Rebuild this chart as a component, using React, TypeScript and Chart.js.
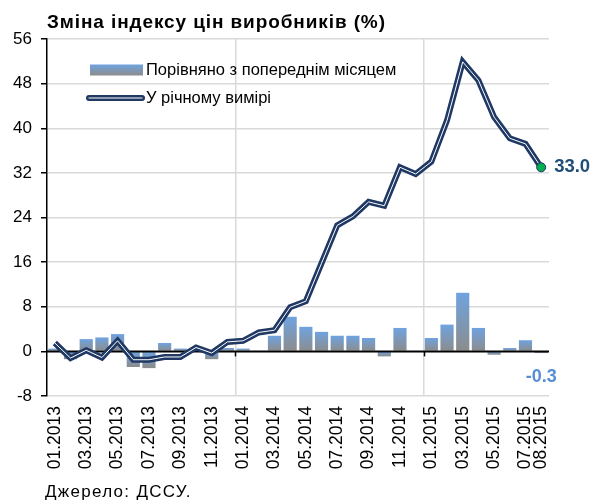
import React, { useEffect, useRef } from 'react';
import { Chart, registerables } from 'chart.js';

Chart.register(...registerables);

const months = [
  '01.2013', '02.2013', '03.2013', '04.2013', '05.2013', '06.2013', '07.2013', '08.2013',
  '09.2013', '10.2013', '11.2013', '12.2013', '01.2014', '02.2014', '03.2014', '04.2014',
  '05.2014', '06.2014', '07.2014', '08.2014', '09.2014', '10.2014', '11.2014', '12.2014',
  '01.2015', '02.2015', '03.2015', '04.2015', '05.2015', '06.2015', '07.2015', '08.2015',
];

// Порівняно з попереднім місяцем (%)
const monthlyChange = [
  0.5, -1.4, 2.2, 2.5, 3.1, -2.8, -3.0, 1.5, 0.5, 0.2, -1.4, 0.6,
  0.5, 0.0, 2.8, 6.2, 4.4, 3.5, 2.8, 2.8, 2.4, -0.9, 4.2, 0.0,
  2.4, 4.8, 10.5, 4.2, -0.6, 0.6, 2.0, -0.3,
];

// У річному вимірі (%)
const annualChange = [
  1.5, -1.2, 0.2, -1.1, 1.9, -1.5, -1.5, -1.0, -1.0, 0.7, -0.3, 1.7,
  1.9, 3.4, 3.8, 7.9, 9.0, 15.8, 22.6, 24.2, 26.8, 26.1, 33.0, 31.8,
  34.0, 41.4, 51.9, 48.6, 42.0, 38.2, 37.2, 33.0,
];

const yMin = -8;
const yMax = 56;
const yStep = 8;

const titleText = 'Зміна індексу цін виробників (%)';
const legendBarLabel = 'Порівняно з попереднім місяцем';
const legendLineLabel = 'У річному вимірі';
const sourceText = 'Джерело: ДССУ.';

const FONT = '"Liberation Sans", Arial, sans-serif';
const NAVY = '#1F3864';
const BAR_TOP = '#6FA3E0';
const BAR_BOTTOM = '#8C8C8C';
const GRID = '#D9D9D9';

const lastIdx = months.length - 1;
const dotData = annualChange.map((v, i) => (i === lastIdx ? v : null));

export default function App() {
  const canvasRef = useRef<HTMLCanvasElement | null>(null);

  useEffect(() => {
    const canvas = canvasRef.current;
    if (!canvas) return;

    const overlay = {
      id: 'overlay',
      afterDatasetDraw(chart: any, args: any) {
        if (args.index !== 0) return;
        const { ctx, chartArea, scales } = chart;
        const y0 = scales.y.getPixelForValue(0);
        ctx.save();
        ctx.strokeStyle = '#000';
        ctx.lineWidth = 2;
        ctx.beginPath();
        ctx.moveTo(chartArea.left, y0);
        ctx.lineTo(chartArea.right, y0);
        ctx.stroke();
        ctx.lineWidth = 1.5;
        const step = (chartArea.right - chartArea.left) / months.length;
        for (let i = 12; i < months.length; i += 12) {
          const x = Math.round(chartArea.left + i * step) + 0.5;
          ctx.beginPath();
          ctx.moveTo(x, y0);
          ctx.lineTo(x, y0 + 5);
          ctx.stroke();
        }
        ctx.restore();
      },
      afterDraw(chart: any) {
        const { ctx, chartArea } = chart;
        ctx.save();
        const lx = chartArea.left + 43;
        const g = ctx.createLinearGradient(0, 64.5, 0, 75.5);
        g.addColorStop(0, BAR_TOP);
        g.addColorStop(1, BAR_BOTTOM);
        ctx.fillStyle = g;
        ctx.fillRect(lx, 64.5, 53, 11);
        ctx.font = `16.5px ${FONT}`;
        ctx.fillStyle = '#000';
        ctx.textBaseline = 'middle';
        ctx.textAlign = 'left';
        ctx.fillText(legendBarLabel, lx + 56, 70);
        ctx.lineCap = 'round';
        ctx.strokeStyle = NAVY;
        ctx.lineWidth = 6;
        ctx.beginPath();
        ctx.moveTo(lx - 1, 98);
        ctx.lineTo(lx + 52, 98);
        ctx.stroke();
        ctx.strokeStyle = '#fff';
        ctx.lineWidth = 1;
        ctx.stroke();
        ctx.fillStyle = '#000';
        ctx.fillText(legendLineLabel, lx + 56, 98);

        const lineMeta = chart.getDatasetMeta(1);
        const pt = lineMeta.data[lastIdx];
        ctx.font = `bold 18.5px ${FONT}`;
        ctx.fillStyle = '#1F4E79';
        ctx.textAlign = 'left';
        ctx.fillText(annualChange[lastIdx].toFixed(1), pt.x + 13, pt.y);

        const barMeta = chart.getDatasetMeta(0);
        const bar = barMeta.data[lastIdx];
        const y0 = chart.scales.y.getPixelForValue(0);
        ctx.font = `bold 18px ${FONT}`;
        ctx.fillStyle = '#558ED5';
        ctx.textAlign = 'center';
        ctx.fillText(monthlyChange[lastIdx].toFixed(1), bar.x, y0 + 26);
        ctx.restore();
      },
    };

    const chart = new Chart(canvas, {
      type: 'bar',
      data: {
        labels: months,
        datasets: [
          {
            type: 'bar',
            label: legendBarLabel,
            data: monthlyChange,
            order: 4,
            barPercentage: 0.84,
            categoryPercentage: 1,
            backgroundColor: (ctx: any) => {
              const chart = ctx.chart;
              if (!chart.chartArea || ctx.type !== 'data') return BAR_TOP;
              const ys = chart.scales.y;
              const p0 = ys.getPixelForValue(0);
              const p1 = ys.getPixelForValue(ctx.raw as number);
              const top = Math.min(p0, p1);
              const bot = Math.max(p0, p1);
              if (bot - top < 0.5) return BAR_BOTTOM;
              const g = chart.ctx.createLinearGradient(0, top, 0, bot);
              g.addColorStop(0, BAR_TOP);
              g.addColorStop(1, BAR_BOTTOM);
              return g;
            },
            borderWidth: 0,
          },
          {
            type: 'line',
            label: legendLineLabel,
            data: annualChange,
            order: 3,
            borderColor: NAVY,
            borderWidth: 6,
            pointRadius: 0,
            tension: 0,
            borderJoinStyle: 'miter',
          },
          {
            type: 'line',
            label: 'inner',
            data: annualChange,
            order: 2,
            borderColor: '#FFFFFF',
            borderWidth: 1,
            pointRadius: 0,
            tension: 0,
          },
          {
            type: 'line',
            label: 'dot',
            data: dotData,
            order: 1,
            showLine: false,
            pointRadius: 4.5,
            pointBackgroundColor: '#00B050',
            pointBorderColor: NAVY,
            pointBorderWidth: 1,
          },
        ],
      },
      options: {
        animation: false,
        responsive: true,
        maintainAspectRatio: false,
        layout: { padding: { left: 0, top: 39, right: 43, bottom: 25 } },
        plugins: {
          legend: { display: false },
          tooltip: { enabled: false },
          title: { display: false },
        },
        scales: {
          x: {
            offset: true,
            border: { display: false },
            grid: {
              offset: true,
              drawTicks: false,
              color: (c: any) => (c.index > 0 && c.index % 12 === 0 ? GRID : 'rgba(0,0,0,0)'),
              lineWidth: 1.5,
            },
            ticks: {
              autoSkip: false,
              maxRotation: 90,
              minRotation: 90,
              padding: 10,
              color: '#000',
              font: { family: FONT, size: 17.5 },
              callback: (_v: any, i: number) => (i % 2 === 0 || i === lastIdx ? months[i] : ''),
            },
            afterFit: (s: any) => {
              s.height = 80;
            },
          },
          y: {
            min: yMin,
            max: yMax,
            border: { display: true, color: '#000', width: 1.5 },
            grid: {
              color: (c: any) => (c.tick && c.tick.value === 0 ? 'rgba(0,0,0,0)' : GRID),
              lineWidth: 1.5,
              tickLength: 6,
              tickColor: '#000',
            },
            ticks: {
              stepSize: yStep,
              padding: 9,
              color: '#000',
              font: { family: FONT, size: 17 },
            },
            afterFit: (s: any) => {
              s.width = 47;
            },
          },
        },
      },
      plugins: [overlay],
    });

    return () => chart.destroy();
  }, []);

  return (
    <div style={{ position: 'absolute', left: 0, top: 0, width: 592, height: 501, background: '#fff' }}>
      <div style={{ position: 'absolute', left: 0, top: 0, width: 592, height: 501 }}>
        <canvas ref={canvasRef} />
      </div>
      <div
        style={{
          position: 'absolute',
          left: 47,
          top: 11,
          fontFamily: FONT,
          fontWeight: 'bold',
          fontSize: 19,
          letterSpacing: '0.9px',
          lineHeight: '22px',
          color: '#000',
          whiteSpace: 'nowrap',
        }}
      >
        {titleText}
      </div>
      <div
        style={{
          position: 'absolute',
          left: 45,
          top: 482,
          fontFamily: FONT,
          fontSize: 17,
          letterSpacing: '1.3px',
          lineHeight: '20px',
          color: '#000',
          whiteSpace: 'nowrap',
        }}
      >
        {sourceText}
      </div>
    </div>
  );
}
